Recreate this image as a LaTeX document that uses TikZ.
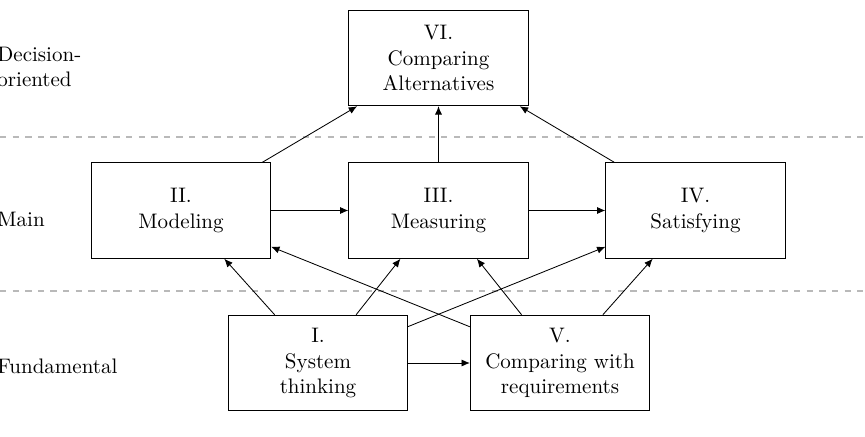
\documentclass[tikz,border=0pt]{standalone}
\usetikzlibrary{arrows.meta}
\begin{document}
\begin{tikzpicture}[x=0.476pt,y=-0.476pt,
  stage/.style={draw, minimum width=3cm, minimum height=1.6cm, align=center, inner sep=2pt},
  flow/.style={-{Latex[length=4pt,width=3.4pt]}},
  band/.style={draw=gray!55, dashed, line width=0.6pt},
  level/.style={anchor=west, align=left, inner sep=0pt}]
\useasboundingbox (0,0) rectangle (865,436);

% level separators
\coordinate (s1l) at (0,137);  \coordinate (s1r) at (865,137);
\coordinate (s2l) at (0,291);  \coordinate (s2r) at (865,291);
\draw[band] (s1l) -- (s1r);
\draw[band] (s2l) -- (s2r);

% level names
\node[level] (lvtop) at (-3,67)  {Decision-\\oriented};
\node[level] (lvmid) at (-3,219) {Main};
\node[level] (lvbot) at (-3,366) {Fundamental};

% stages
\node[stage] (VI)  at (438.5,58)  {VI.\\Comparing\\Alternatives};
\node[stage] (II)  at (181,210.5) {II.\\Modeling};
\node[stage] (III) at (438.5,210.5) {III.\\Measuring};
\node[stage] (IV)  at (695.5,210.5) {IV.\\Satisfying};
\node[stage] (I)   at (318,363)   {I.\\System\\thinking};
\node[stage] (V)   at (560,363)   {V.\\Comparing with\\requirements};

% dependencies
\draw[flow] (II) -- (VI);
\draw[flow] (III) -- (VI);
\draw[flow] (IV) -- (VI);
\draw[flow] (II) -- (III);
\draw[flow] (III) -- (IV);
\draw[flow] (I) -- (II);
\draw[flow] (I) -- (III);
\draw[flow] (I) -- (IV);
\draw[flow] (I) -- (V);
\draw[flow] (V) -- (II);
\draw[flow] (V) -- (III);
\draw[flow] (V) -- (IV);
\end{tikzpicture}
\end{document}
